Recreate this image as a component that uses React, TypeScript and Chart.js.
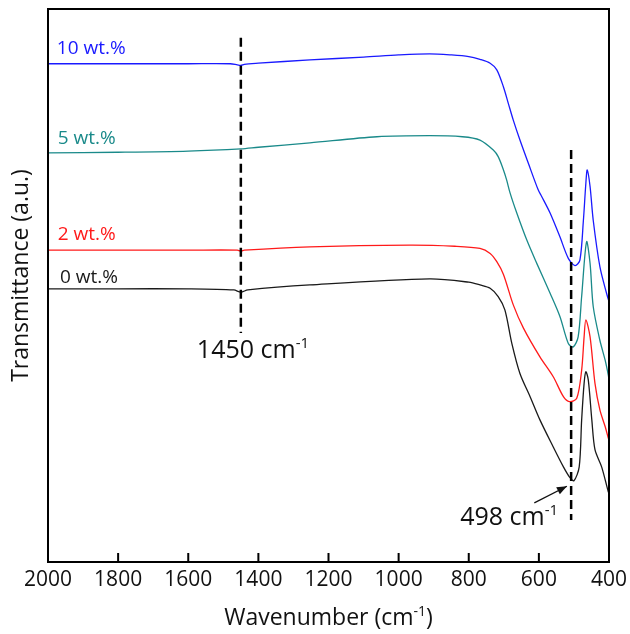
import React, { useEffect, useRef } from 'react';
import { Chart, registerables } from 'chart.js';
Chart.register(...registerables);

// Wavenumber (cm-1) and transmittance (a.u.)
const wn10 = [2000, 1800, 1600, 1480, 1460, 1450, 1440, 1400, 1253, 1100, 1000, 912, 850, 800, 768, 739, 720, 701, 687, 673, 654, 630, 602, 592, 568, 540, 516, 497, 483, 473, 466, 462, 454, 445, 426, 407, 400];
const tr10 = [90.1, 90.1, 90.1, 90.1, 89.9, 89.8, 90.0, 90.2, 90.8, 91.3, 91.7, 91.9, 91.7, 91.4, 90.9, 90.2, 89.0, 85.9, 82.9, 79.9, 76.3, 72.1, 67.3, 66.1, 63.1, 58.8, 54.9, 53.6, 54.6, 61.8, 68.5, 70.9, 67.9, 61.8, 53.4, 48.6, 47.1];

const wn5 = [2000, 1800, 1600, 1450, 1400, 1253, 1062, 912, 818, 768, 730, 716, 701, 692, 682, 663, 635, 606, 568, 540, 516, 502, 488, 478, 464, 454, 445, 426, 411, 402, 400];
const tr5 = [74.0, 74.1, 74.3, 74.7, 75.0, 75.8, 76.9, 77.1, 76.9, 76.3, 74.5, 73.3, 70.9, 69.1, 66.7, 63.1, 58.3, 54.0, 48.6, 44.4, 39.5, 38.9, 40.7, 48.0, 57.9, 54.0, 46.2, 40.1, 36.5, 33.8, 32.9];

const wn2 = [2000, 1800, 1600, 1460, 1450, 1440, 1253, 968, 840, 768, 739, 720, 701, 673, 644, 597, 559, 530, 513, 492, 478, 471, 466, 454, 440, 426, 411, 402, 400];
const tr2 = [56.4, 56.4, 56.4, 56.4, 56.2, 56.4, 57.0, 57.3, 57.1, 56.7, 55.8, 54.3, 52.0, 46.5, 42.3, 37.1, 33.5, 29.9, 29.0, 29.6, 34.7, 40.7, 43.8, 40.7, 32.3, 27.5, 24.5, 22.4, 22.1];

const wn0 = [2000, 1800, 1600, 1470, 1450, 1430, 1253, 912, 800, 768, 739, 716, 697, 677, 654, 625, 597, 559, 530, 513, 500, 485, 478, 471, 466, 459, 449, 440, 421, 402, 400];
const tr0 = [49.4, 49.4, 49.4, 49.2, 48.8, 49.2, 50.1, 51.2, 50.6, 50.1, 49.5, 48.0, 45.6, 39.5, 34.1, 29.9, 25.7, 20.8, 17.2, 15.4, 14.7, 17.2, 25.7, 32.3, 34.4, 32.9, 25.7, 20.3, 17.2, 12.7, 12.5];

const seriesNames = ['10 wt.%', '5 wt.%', '2 wt.%', '0 wt.%'];
const seriesColors = ['#1a1aff', '#1a8a8a', '#ff1a1a', '#1a1a1a'];
// label anchor (wavenumber of left edge, transmittance of baseline)
const labelX = [1975, 1972, 1972, 1966];
const labelY = [91.8, 75.6, 58.2, 50.5];

const xTicks = [2000, 1800, 1600, 1400, 1200, 1000, 800, 600, 400];

const peak1 = 1450;
const peak2 = 508;

const FONT = '"Open Sans", "DejaVu Sans", sans-serif';

function pts(xs: number[], ys: number[]) {
  return xs.map((x, i) => ({ x, y: ys[i] }));
}

function drawSup(ctx: CanvasRenderingContext2D, x: number, y: number, main: string, sup: string, tail: string, size: number, color: string) {
  ctx.save();
  ctx.fillStyle = color;
  ctx.textBaseline = 'alphabetic';
  ctx.textAlign = 'left';
  ctx.font = `${size}px ${FONT}`;
  ctx.fillText(main, x, y);
  let cx = x + ctx.measureText(main).width;
  const ss = Math.round(size * 0.6);
  ctx.font = `${ss}px ${FONT}`;
  ctx.fillText(sup, cx, y - size * 0.38);
  cx += ctx.measureText(sup).width;
  if (tail) {
    ctx.font = `${size}px ${FONT}`;
    ctx.fillText(tail, cx, y);
  }
  ctx.restore();
}

function measureSup(ctx: CanvasRenderingContext2D, main: string, sup: string, tail: string, size: number) {
  ctx.save();
  ctx.font = `${size}px ${FONT}`;
  let w = ctx.measureText(main).width + ctx.measureText(tail).width;
  ctx.font = `${Math.round(size * 0.6)}px ${FONT}`;
  w += ctx.measureText(sup).width;
  ctx.restore();
  return w;
}

const decor = {
  id: 'decor',
  afterDatasetsDraw(chart: any) {
    const { ctx, chartArea, scales } = chart;
    const xs = scales.x;
    const ys = scales.y;
    ctx.save();
    // frame
    ctx.strokeStyle = '#000';
    ctx.lineWidth = 2;
    ctx.strokeRect(chartArea.left, chartArea.top, chartArea.right - chartArea.left, chartArea.bottom - chartArea.top);

    // inward tick marks on the bottom axis
    ctx.beginPath();
    xs.ticks.forEach((t: any) => {
      const px = xs.getPixelForValue(t.value);
      ctx.moveTo(px, chartArea.bottom);
      ctx.lineTo(px, chartArea.bottom - 9);
    });
    ctx.stroke();

    // dashed lines
    ctx.setLineDash([9, 5]);
    ctx.lineWidth = 2.5;
    ctx.beginPath();
    ctx.moveTo(xs.getPixelForValue(peak1), ys.getPixelForValue(94.8));
    ctx.lineTo(xs.getPixelForValue(peak1), ys.getPixelForValue(41.4));
    ctx.moveTo(xs.getPixelForValue(peak2), ys.getPixelForValue(74.5));
    ctx.lineTo(xs.getPixelForValue(peak2), ys.getPixelForValue(7.6));
    ctx.stroke();
    ctx.setLineDash([]);

    // arrow
    const ax0 = xs.getPixelForValue(613), ay0 = ys.getPixelForValue(10.7);
    const ax1 = xs.getPixelForValue(520), ay1 = ys.getPixelForValue(13.7);
    ctx.lineWidth = 1.3;
    ctx.strokeStyle = '#111';
    ctx.fillStyle = '#111';
    ctx.beginPath();
    ctx.moveTo(ax0, ay0);
    ctx.lineTo(ax1, ay1);
    ctx.stroke();
    const ang = Math.atan2(ay1 - ay0, ax1 - ax0);
    const L = 10, W = 4;
    ctx.beginPath();
    ctx.moveTo(ax1, ay1);
    ctx.lineTo(ax1 - L * Math.cos(ang) + W * Math.sin(ang), ay1 - L * Math.sin(ang) - W * Math.cos(ang));
    ctx.lineTo(ax1 - L * Math.cos(ang) - W * Math.sin(ang), ay1 - L * Math.sin(ang) + W * Math.cos(ang));
    ctx.closePath();
    ctx.fill();

    // peak labels
    drawSup(ctx, xs.getPixelForValue(peak1) - 44, ys.getPixelForValue(36.9), `${peak1} cm`, '-1', '', 25, '#111');
    drawSup(ctx, xs.getPixelForValue(peak2) - 111, ys.getPixelForValue(6.7), '498 cm', '-1', '', 25, '#111');

    // series labels
    ctx.textBaseline = 'alphabetic';
    ctx.textAlign = 'left';
    ctx.font = `19px ${FONT}`;
    seriesNames.forEach((n, i) => {
      ctx.fillStyle = seriesColors[i];
      ctx.fillText(n, xs.getPixelForValue(labelX[i]), ys.getPixelForValue(labelY[i]));
    });

    // x title
    const tw = measureSup(ctx, 'Wavenumber (cm', '-1', ')', 23);
    const cx = (chartArea.left + chartArea.right) / 2;
    drawSup(ctx, cx - tw / 2, 625, 'Wavenumber (cm', '-1', ')', 23, '#111');

    // y title
    ctx.save();
    ctx.translate(21, (chartArea.top + chartArea.bottom) / 2 - 10);
    ctx.rotate(-Math.PI / 2);
    ctx.font = `23px ${FONT}`;
    ctx.fillStyle = '#111';
    ctx.textAlign = 'center';
    ctx.textBaseline = 'middle';
    ctx.fillText('Transmittance (a.u.)', 0, 0);
    ctx.restore();

    ctx.restore();
  },
};

export default function App() {
  const ref = useRef<HTMLCanvasElement>(null);
  useEffect(() => {
    if (!ref.current) return;
    const wns = [wn10, wn5, wn2, wn0];
    const trs = [tr10, tr5, tr2, tr0];
    const chart = new Chart(ref.current, {
      type: 'line',
      data: {
        datasets: seriesNames.map((n, i) => ({
          label: n,
          data: pts(wns[i], trs[i]),
          borderColor: seriesColors[i],
          borderWidth: 1.3,
          pointRadius: 0,
          fill: false,
          tension: 0.3,
        })),
      },
      options: {
        animation: false,
        responsive: false,
        maintainAspectRatio: false,
        layout: { padding: { left: 48, right: 21, top: 9, bottom: 0 } },
        plugins: { legend: { display: false }, tooltip: { enabled: false }, title: { display: false } },
        scales: {
          x: {
            type: 'linear',
            reverse: true,
            min: 400,
            max: 2000,
            afterBuildTicks: (s: any) => { s.ticks = xTicks.map((v) => ({ value: v })); },
            ticks: {
              color: '#111',
              font: { family: FONT, size: 21 },
              padding: 5,
              maxRotation: 0,
              autoSkip: false,
              callback: (v: any) => String(v),
            },
            grid: { display: false, drawOnChartArea: false, drawTicks: false, tickLength: 0 },
            border: { display: false },
            afterFit: (s: any) => { s.height = 72; s.paddingLeft = 0; s.paddingRight = 0; },
          },
          y: { display: false, min: 0, max: 100 },
        },
      },
      plugins: [decor],
    });
    return () => chart.destroy();
  }, []);
  return (
    <div style={{ position: 'absolute', left: 0, top: 0, width: 630, height: 634, background: '#fff' }}>
      <canvas ref={ref} width={630} height={634} />
    </div>
  );
}
